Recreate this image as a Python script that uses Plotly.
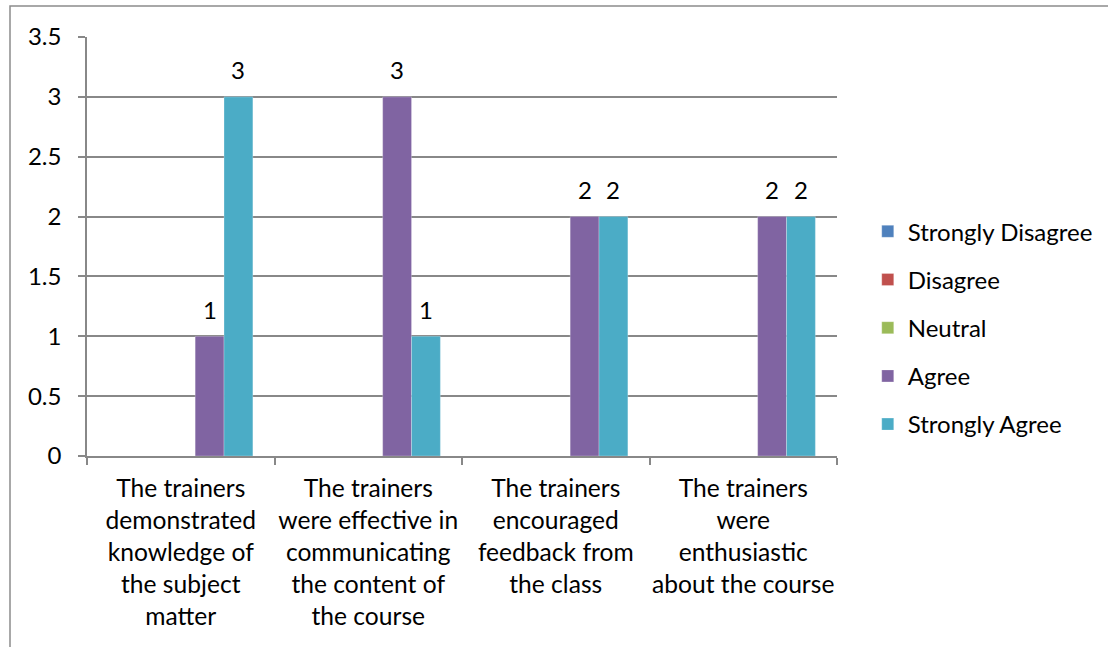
import plotly.graph_objects as go

categories = [
    "The trainers<br>demonstrated<br>knowledge of<br>the subject<br>matter",
    "The trainers<br>were effective in<br>communicating<br>the content of<br>the course",
    "The trainers<br>encouraged<br>feedback from<br>the class",
    "The trainers<br>were<br>enthusiastic<br>about the course",
]
series_names = ["Strongly Disagree", "Disagree", "Neutral", "Agree", "Strongly Agree"]
strongly_disagree = [0, 0, 0, 0]
disagree = [0, 0, 0, 0]
neutral = [0, 0, 0, 0]
agree = [1, 3, 2, 2]
strongly_agree = [3, 1, 2, 2]
colors = ["#4F81BD", "#C0504D", "#9BBB59", "#8064A2", "#4BACC6"]
y_ticks = [0, 0.5, 1, 1.5, 2, 2.5, 3, 3.5]

series_values = [strongly_disagree, disagree, neutral, agree, strongly_agree]

FONT = "Lato, Calibri, Carlito, sans-serif"
FS = 24
GRID = "#888888"

fig = go.Figure()
for i, (name, vals, col) in enumerate(zip(series_names, series_values, colors)):
    fig.add_trace(go.Bar(
        name=name, x=categories, y=vals,
        marker=dict(color=col, line=dict(color="rgba(255,255,255,0.5)", width=0.5)),
        legendgroup=name,
    ))

# data labels (skip zero values, as in the reference)
plot_w = 1108 - 87 - 271
bar_w = plot_w / len(categories) / 6.5
n = len(series_names)
annotations = []
for i, vals in enumerate(series_values):
    offset = (i - (n - 1) / 2) * bar_w
    for c, v in zip(categories, vals):
        if v > 0:
            annotations.append(dict(
                x=c, y=v, xref="x", yref="y", text=str(v), showarrow=False,
                xshift=offset, yshift=27, yanchor="middle",
                font=dict(family=FONT, size=FS, color="#000000"),
            ))

fig.update_layout(
    width=1108, height=647,
    margin=dict(l=87, r=271, t=37, b=191, autoexpand=False),
    paper_bgcolor="white", plot_bgcolor="white",
    barmode="group", bargap=1.5 / 6.5, bargroupgap=0,
    font=dict(family=FONT, size=FS, color="#000000"),
    annotations=annotations,
    showlegend=True,
    legend=dict(
        x=1.041, xanchor="left", y=0.589, yanchor="top",
        font=dict(family=FONT, size=FS, color="#000000"),
        tracegroupgap=14, bgcolor="rgba(0,0,0,0)",
    ),
    shapes=[dict(
        type="rect", xref="paper", yref="paper",
        x0=(10 - 87) / 750, x1=(1130 - 87) / 750,
        y0=(456 - 680) / 419, y1=(456 - 6) / 419,
        line=dict(color="#8c8c8c", width=1.5), fillcolor="rgba(0,0,0,0)", layer="below",
    )],
)
fig.update_xaxes(
    type="category", showgrid=False, showline=True, linecolor=GRID, linewidth=1.5,
    ticks="outside", tickson="boundaries", ticklen=7, tickcolor=GRID, tickwidth=1.5,
    ticklabelstandoff=10, tickangle=0, automargin=False,
    tickfont=dict(family=FONT, size=24.6, color="#000000"),
)
fig.update_yaxes(
    range=[0, 3.5], tickvals=y_ticks, ticktext=[f"{t:g}" for t in y_ticks],
    showgrid=True, gridcolor=GRID, gridwidth=1.5,
    showline=True, linecolor=GRID, linewidth=1.5,
    ticks="outside", ticklen=7, tickcolor=GRID, tickwidth=1.5,
    ticklabelstandoff=12, automargin=False,
    tickfont=dict(family=FONT, size=FS, color="#000000"),
    zeroline=False,
)
fig.write_html(
    "out.html",
    config={"displayModeBar": False},
    post_script="document.body.style.margin='0';document.body.style.overflow='hidden';",
)
